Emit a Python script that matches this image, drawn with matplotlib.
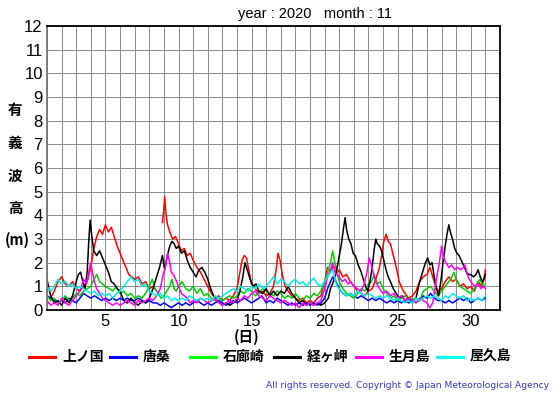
import numpy as np
import matplotlib
matplotlib.use("Agg")
import matplotlib.pyplot as plt
from matplotlib.lines import Line2D

nan = np.nan

# station names and colours
names = ["上ノ国", "唐桑", "石廊崎", "経ヶ岬", "生月島", "屋久島"]
colors = ["#ff0000", "#0000ff", "#00cc00", "#000000", "#ff00ff", "#00eeee"]
legend_colors = ["#ff0000", "#0000ff", "#00ff00", "#000000", "#ff00ff", "#00ffff"]

# (day, height m)
red_t = [1.0, 1.25, 1.5, 1.75, 2.0, 2.25, 2.5, 2.75, 3.0, 3.25, 3.5, 3.75, 4.0, 4.2, 4.4, 4.6, 4.8, 5.0, 5.2, 5.4,
         5.6, 5.8, 6.0, 6.2, 6.4, 6.6, 6.8, 7.0, 7.25, 7.5, 7.75, 8.0, 8.25, 8.5, 8.7, 8.9, 9.0, 9.05, 9.15, 9.25,
         9.4, 9.6, 9.8, 10.0, 10.2, 10.4, 10.6, 10.8, 11.0, 11.25, 11.5, 11.75, 12.0, 12.25, 12.5, 12.75, 13.0,
         13.25, 13.5, 13.75, 14.0, 14.2, 14.35, 14.5, 14.65, 14.8, 15.0, 15.25, 15.5, 15.75, 16.0, 16.25, 16.5,
         16.7, 16.8, 16.95, 17.1, 17.3, 17.5, 17.75, 18.0, 18.25, 18.5, 18.75, 19.0, 19.25, 19.5, 19.75, 20.0,
         20.2, 20.4, 20.6, 20.8, 21.0, 21.25, 21.5, 21.75, 22.0, 22.25, 22.5, 22.75, 23.0, 23.25, 23.5, 23.75,
         23.9, 24.05, 24.2, 24.35, 24.5, 24.7, 24.9, 25.1, 25.3, 25.5, 25.75, 26.0, 26.25, 26.5, 26.75, 27.0,
         27.2, 27.4, 27.6, 27.8, 28.0, 28.25, 28.5, 28.75, 29.0, 29.25, 29.5, 29.75, 30.0, 30.25, 30.5, 30.75,
         30.9, 31.0]
red_h = [0.6, 0.5, 0.8, 1.2, 1.4, 1.1, 1.0, 1.2, 0.9, 0.8, 1.0, 1.2, 1.8, 2.6, 3.1, 3.4, 3.2, 3.6, 3.3, 3.5,
         3.1, 2.7, 2.4, 2.1, 1.8, 1.5, 1.4, 1.3, 1.4, 1.1, 1.2, 0.9, 1.0, 0.8, nan, 3.7, 4.3, 4.8, 4.0, 3.6,
         3.3, 3.0, 3.1, 2.8, 2.5, 2.6, 2.3, 2.4, 2.1, 1.8, 1.6, 1.3, 1.0, 0.7, 0.5, 0.6, 0.4,
         0.5, 0.4, 0.6, 0.9, 1.6, 2.1, 2.3, 2.2, 1.7, 1.1, 0.9, 0.7, 0.8, 0.6, 0.7, 1.0,
         1.8, 2.4, 2.1, 1.5, 1.0, 0.8, 0.6, 0.5, 0.4, 0.5, 0.3, 0.4, 0.3, 0.5, 0.6, 1.2,
         1.8, 1.6, 1.9, 1.5, 1.7, 1.4, 1.5, 1.2, 1.0, 0.8, 0.7, 0.6, 0.8, 0.9, 1.3, 1.8,
         2.3, 2.9, 3.2, 2.9, 2.8, 2.3, 1.8, 1.2, 0.9, 0.7, 0.5, 0.6, 0.8, 1.2, 1.4, 1.5,
         1.8, 1.4, 1.0, 0.8, 0.9, 1.2, 1.4, 1.2, 1.3, 1.0, 1.1, 0.9, 1.0, 0.8, 1.2, 1.0,
         1.3, 1.7]

blue_t = [1.0, 1.25, 1.5, 1.75, 2.0, 2.25, 2.5, 2.75, 3.0, 3.25, 3.5, 3.75, 4.0, 4.25, 4.5, 4.75, 5.0, 5.25,
          5.5, 5.75, 6.0, 6.25, 6.5, 6.75, 7.0, 7.25, 7.5, 7.75, 8.0, 8.25, 8.5, 8.75, 9.0, 9.25, 9.5, 9.75,
          10.0, 10.25, 10.5, 10.75, 11.0, 11.25, 11.5, 11.75, 12.0, 12.25, 12.5, 12.75, 13.0, 13.25, 13.5,
          13.75, 14.0, 14.25, 14.5, 14.75, 15.0, 15.25, 15.5, 15.7, 15.9, 16.0, 16.25, 16.5, 16.75, 17.0,
          17.25, 17.5, 17.75, 18.0, 18.25, 18.5, 18.75, 19.0, 19.25, 19.5, 19.75, 20.0, 20.2, 20.4, 20.55,
          20.7, 20.85, 21.0, 21.25, 21.5, 21.75, 22.0, 22.25, 22.5, 22.75, 23.0, 23.25, 23.5, 23.75, 24.0,
          24.25, 24.5, 24.75, 25.0, 25.25, 25.5, 25.75, 26.0, 26.25, 26.5, 26.75, 27.0, 27.25, 27.5, 27.75,
          28.0, 28.25, 28.5, 28.75, 29.0, 29.25, 29.5, 29.75, 30.0, 30.25, 30.5, 30.75, 31.0]
blue_h = [0.6, 0.5, 0.4, 0.3, 0.4, 0.3, 0.5, 0.4, 0.3, 0.5, 0.7, 0.6, 0.5, 0.6, 0.5, 0.4, 0.5, 0.4,
          0.5, 0.4, 0.5, 0.4, 0.5, 0.4, 0.4, 0.5, 0.4, 0.3, 0.4, 0.3, 0.3, 0.2, 0.3, 0.2, 0.1, 0.2,
          0.3, 0.2, 0.3, 0.2, 0.3, 0.4, 0.3, 0.2, 0.3, 0.2, 0.3, 0.4, 0.3, 0.2, 0.3,
          0.4, 0.3, 0.4, 0.5, 0.4, 0.3, 0.4, 0.5, 0.6, 0.4, 0.3, 0.4, 0.3, 0.5, 0.4,
          0.3, 0.2, 0.3, 0.2, 0.3, 0.2, 0.3, 0.2, 0.3, 0.2, 0.3, 0.5, 0.9, 1.2, 1.4,
          1.3, 1.1, 0.9, 0.7, 0.6, 0.7, 0.6, 0.5, 0.6, 0.5, 0.4, 0.5, 0.4, 0.5, 0.4,
          0.3, 0.4, 0.3, 0.4, 0.3, 0.4, 0.3, 0.4, 0.5, 0.4, 0.6, 0.5, 0.7, 0.5, 0.4,
          0.4, 0.3, 0.4, 0.3, 0.4, 0.5, 0.4, 0.5, 0.3, 0.4, 0.5, 0.4, 0.5]

green_t = [1.0, 1.25, 1.5, 1.75, 2.0, 2.25, 2.5, 2.75, 3.0, 3.25, 3.5, 3.75, 4.0, 4.2, 4.4, 4.6, 4.8, 5.0,
           5.25, 5.5, 5.75, 6.0, 6.25, 6.5, 6.75, 7.0, 7.25, 7.5, 7.75, 8.0, 8.2, 8.4, 8.6, 8.8, 9.0, 9.2,
           9.4, 9.55, 9.7, 9.85, 10.0, 10.25, 10.5, 10.75, 11.0, 11.25, 11.5, 11.75, 12.0, 12.25, 12.5,
           12.75, 13.0, 13.25, 13.5, 13.75, 14.0, 14.25, 14.5, 14.75, 15.0, 15.25, 15.5, 15.75, 16.0, 16.25,
           16.5, 16.75, 17.0, 17.25, 17.5, 17.75, 18.0, 18.25, 18.5, 18.75, 19.0, 19.25, 19.5, 19.75, 20.0,
           20.2, 20.4, 20.55, 20.7, 20.85, 21.0, 21.25, 21.5, 21.75, 22.0, 22.25, 22.5, 22.75, 23.0, 23.2,
           23.4, 23.6, 23.8, 24.0, 24.25, 24.5, 24.75, 25.0, 25.25, 25.5, 25.75, 26.0, 26.25, 26.5, 26.75,
           27.0, 27.25, 27.5, 27.75, 28.0, 28.25, 28.5, 28.7, 28.85, 29.0, 29.25, 29.5, 29.75, 30.0, 30.25,
           30.5, 30.65, 30.8, 31.0]
green_h = [0.6, 0.4, 0.5, 0.3, 0.4, 0.6, 0.4, 0.5, 0.7, 0.6, 0.8, 0.9, 1.0, 1.3, 1.5, 1.2, 1.1, 1.0,
           0.9, 0.8, 1.0, 0.7, 0.8, 0.6, 0.7, 0.5, 0.6, 0.5, 0.7, 1.0, 1.3, 0.9, 0.7, 0.5, 0.6, 0.8,
           1.0, 1.3, 0.9, 0.8, 1.0, 1.2, 0.9, 0.8, 1.0, 0.7, 0.9, 0.6, 0.7, 0.5, 0.4,
           0.5, 0.4, 0.5, 0.6, 0.5, 0.6, 0.8, 0.7, 0.9, 0.8, 0.6, 0.7, 0.9, 0.8, 0.7,
           0.6, 0.8, 0.7, 0.5, 0.6, 0.5, 0.7, 0.5, 0.4, 0.6, 0.5, 0.7, 0.6, 0.8, 1.2,
           1.6, 2.0, 2.5, 2.0, 1.6, 1.2, 0.9, 0.7, 0.6, 0.5, 0.7, 0.9, 0.8, 1.1, 1.2,
           1.5, 1.1, 1.2, 0.9, 0.7, 0.5, 0.6, 0.4, 0.5, 0.6, 0.4, 0.5, 0.3, 0.4, 0.8,
           0.9, 1.0, 0.8, 0.6, 0.8, 1.0, 1.2, 1.4, 1.6, 1.3, 1.0, 0.9, 0.8, 0.7, 0.9,
           1.2, 1.3, 1.0, 1.1]

black_t = [1.0, 1.1, 1.25, 1.5, 1.75, 2.0, 2.25, 2.5, 2.75, 3.0, 3.15, 3.3, 3.45, 3.6, 3.75, 3.85, 3.95, 4.05,
           4.2, 4.4, 4.6, 4.8, 5.0, 5.2, 5.4, 5.6, 5.8, 6.0, 6.25, 6.5, 6.75, 7.0, 7.25, 7.5, 7.75, 8.0,
           8.25, 8.5, 8.7, 8.9, 9.05, 9.2, 9.4, 9.55, 9.7, 9.85, 10.0, 10.2, 10.4, 10.6, 10.8, 11.0, 11.2,
           11.4, 11.6, 11.8, 12.0, 12.2, 12.4, 12.6, 12.8, 13.0, 13.25, 13.5, 13.75, 14.0, 14.2, 14.4, 14.55,
           14.7, 14.9, 15.1, 15.3, 15.5, 15.75, 16.0, 16.25, 16.5, 16.75, 17.0, 17.25, 17.5, 17.75, 18.0,
           18.25, 18.5, 18.75, 19.0, 19.25, 19.5, 19.75, 20.0, 20.25, 20.4, 20.6, 20.8, 21.0, 21.15, 21.3,
           21.4, 21.5, 21.65, 21.8, 21.95, 22.1, 22.3, 22.5, 22.65, 22.8, 22.95, 23.1, 23.25, 23.4, 23.5,
           23.6, 23.75, 23.9, 24.05, 24.2, 24.35, 24.5, 24.7, 24.9, 25.1, 25.3, 25.5, 25.75, 26.0, 26.25,
           26.5, 26.7, 26.9, 27.05, 27.2, 27.35, 27.5, 27.65, 27.8, 27.95, 28.1, 28.25, 28.4, 28.5, 28.6,
           28.75, 28.9, 29.05, 29.2, 29.35, 29.5, 29.7, 29.85, 30.0, 30.2, 30.35, 30.5, 30.65, 30.8, 30.9,
           31.0]
black_h = [1.3, 1.0, 0.6, 0.3, 0.4, 0.2, 0.5, 0.3, 0.6, 1.2, 1.5, 1.6, 1.2, 0.9, 1.6, 2.8, 3.8, 3.2,
           2.5, 2.3, 2.5, 2.2, 1.9, 1.6, 1.2, 1.1, 0.9, 0.8, 0.4, 0.3, 0.5, 0.3, 0.2, 0.4, 0.3, 0.5,
           0.9, 1.4, 1.8, 2.3, 1.7, 2.2, 2.7, 2.9, 2.8, 2.6, 2.7, 2.4, 2.5, 2.1, 1.8, 1.6, 1.4,
           1.7, 1.8, 1.6, 1.3, 0.9, 0.6, 0.4, 0.3, 0.2, 0.3, 0.2, 0.3, 0.4, 0.8, 1.4, 2.0,
           1.7, 1.3, 1.0, 1.1, 0.8, 0.7, 0.9, 0.6, 0.8, 0.6, 0.8, 0.7, 1.0, 0.7, 0.5,
           0.3, 0.4, 0.2, 0.3, 0.2, 0.3, 0.2, 0.3, 0.5, 0.9, 1.2, 1.6, 2.3, 2.8, 3.5,
           3.9, 3.4, 3.0, 2.8, 2.4, 2.3, 1.9, 1.6, 1.3, 1.0, 0.8, 1.2, 1.8, 2.6, 3.0,
           2.8, 2.7, 2.5, 2.1, 1.7, 1.4, 1.2, 0.9, 0.7, 0.5, 0.6, 0.4, 0.5, 0.3, 0.5,
           1.2, 1.6, 2.0, 2.2, 1.9, 2.0, 1.4, 0.9, 0.6, 1.2, 2.0, 2.7, 3.3, 3.6, 3.3,
           3.0, 2.6, 2.4, 2.3, 2.1, 1.9, 1.6, 1.5, 1.5, 1.4, 1.5, 1.7, 1.4, 1.2, 1.3,
           1.5]

mag_t = [1.0, 1.25, 1.5, 1.75, 2.0, 2.25, 2.5, 2.75, 3.0, 3.25, 3.5, 3.7, 3.85, 4.0, 4.1, 4.25, 4.4, 4.6,
         4.8, 5.0, 5.25, 5.5, 5.75, 6.0, 6.25, 6.5, 6.75, 7.0, 7.25, 7.5, 7.75, 8.0, 8.25, 8.5, 8.75, 8.95,
         9.1, 9.25, 9.4, 9.5, 9.65, 9.8, 10.0, 10.2, 10.4, 10.6, 10.8, 11.0, 11.25, 11.5, 11.75, 12.0, 12.25,
         12.5, 12.75, 13.0, 13.25, 13.5, 13.75, 14.0, 14.25, 14.5, 14.75, 15.0, 15.25, 15.5, 15.75, 16.0,
         16.25, 16.5, 16.75, 17.0, 17.25, 17.5, 17.75, 18.0, 18.25, 18.5, 18.75, 19.0, 19.25, 19.5, 19.75,
         20.0, 20.2, 20.4, 20.55, 20.7, 20.85, 21.0, 21.2, 21.4, 21.6, 21.8, 22.0, 22.25, 22.5, 22.7, 22.9,
         23.05, 23.2, 23.35, 23.5, 23.75, 24.0, 24.25, 24.5, 24.75, 25.0, 25.25, 25.5, 25.75, 26.0, 26.25,
         26.5, 26.75, 27.0, 27.2, 27.4, 27.55, 27.7, 27.85, 28.0, 28.15, 28.3, 28.5, 28.7, 28.9, 29.1, 29.3,
         29.5, 29.6, 29.75, 29.9, 30.1, 30.3, 30.5, 30.7, 30.85, 31.0]
mag_h = [0.4, 0.2, 0.3, 0.2, 0.5, 0.3, 0.2, 0.4, 0.6, 0.8, 1.3, 1.1, 1.6, 2.0, 1.6, 1.2, 0.9, 0.7,
         0.5, 0.4, 0.3, 0.2, 0.3, 0.2, 0.3, 0.4, 0.3, 0.2, 0.4, 0.3, 0.4, 0.5, 0.4, 0.6, 0.9, 1.5,
         1.8, 2.4, 2.0, 1.6, 1.5, 1.3, 1.0, 0.7, 0.6, 0.5, 0.3, 0.4, 0.3, 0.5, 0.4, 0.3, 0.4,
         0.5, 0.3, 0.2, 0.3, 0.4, 0.3, 0.5, 0.4, 0.6, 0.5, 0.7, 0.8, 0.6, 0.5, 0.4,
         0.6, 0.5, 0.4, 0.3, 0.4, 0.3, 0.2, 0.3, 0.1, 0.3, 0.2, 0.3, 0.2, 0.3, 0.4,
         0.9, 1.4, 1.7, 2.0, 1.6, 1.5, 1.4, 1.2, 1.3, 1.1, 1.2, 1.0, 0.9, 0.8, 1.1, 1.6,
         2.2, 1.9, 1.5, 1.2, 0.9, 0.7, 0.8, 0.6, 0.7, 0.5, 0.6, 0.4, 0.5, 0.4, 0.3,
         0.5, 0.4, 0.3, 0.1, 0.3, 0.9, 1.5, 2.0, 2.7, 2.2, 2.0, 1.8, 1.9, 1.7, 1.8, 1.7,
         1.8, 1.9, 1.5, 1.3, 1.1, 1.0, 1.1, 0.9, 1.0, 0.9]

cyan_t = [1.0, 1.25, 1.5, 1.75, 2.0, 2.25, 2.5, 2.75, 3.0, 3.25, 3.5, 3.75, 4.0, 4.25, 4.5, 4.75, 5.0, 5.25,
          5.5, 5.75, 6.0, 6.25, 6.5, 6.75, 7.0, 7.25, 7.5, 7.75, 8.0, 8.25, 8.5, 8.75, 9.0, 9.25, 9.5, 9.75,
          10.0, 10.25, 10.5, 10.75, 11.0, 11.25, 11.5, 11.75, 12.0, 12.25, 12.5, 12.75, 13.0, 13.25, 13.5,
          13.75, 14.0, 14.25, 14.5, 14.75, 15.0, 15.25, 15.5, 15.75, 16.0, 16.25, 16.5, 16.75, 17.0, 17.25,
          17.5, 17.75, 18.0, 18.25, 18.5, 18.75, 19.0, 19.25, 19.5, 19.75, 20.0, 20.2, 20.4, 20.55, 20.7,
          20.85, 21.0, 21.25, 21.5, 21.75, 22.0, 22.25, 22.5, 22.75, 23.0, 23.25, 23.5, 23.75, 24.0, 24.25,
          24.5, 24.75, 25.0, 25.25, 25.5, 25.75, 26.0, 26.25, 26.5, 26.75, 27.0, 27.25, 27.5, 27.75, 28.0,
          28.25, 28.5, 28.75, 29.0, 29.25, 29.5, 29.75, 30.0, 30.25, 30.5, 30.75, 31.0]
cyan_h = [1.0, 0.8, 1.0, 1.3, 1.1, 1.2, 1.0, 1.1, 0.9, 1.0, 0.9, 0.8, 0.7, 0.8, 0.6, 0.7, 0.6, 0.7,
          0.5, 0.7, 0.8, 1.0, 1.2, 1.4, 1.2, 1.3, 1.0, 1.1, 0.8, 0.7, 0.6, 0.7, 0.5, 0.6, 0.4, 0.5,
          0.4, 0.5, 0.4, 0.6, 0.5, 0.4, 0.5, 0.4, 0.5, 0.4, 0.6, 0.5, 0.6, 0.7, 0.8,
          0.9, 0.8, 1.0, 0.9, 0.8, 1.0, 0.9, 1.1, 0.9, 1.0, 1.2, 1.4, 1.1, 1.3, 1.2,
          1.0, 1.2, 1.3, 1.1, 1.2, 1.0, 1.2, 1.35, 1.1, 1.0, 1.2, 1.4, 1.6, 1.7, 1.3,
          1.0, 0.9, 0.7, 0.6, 0.7, 0.6, 0.8, 0.7, 0.6, 0.7, 0.6, 0.5, 0.6, 0.5, 0.6,
          0.5, 0.4, 0.5, 0.4, 0.3, 0.4, 0.3, 0.5, 0.4, 0.5, 0.6, 0.5, 0.6, 0.5, 0.4,
          0.6, 0.5, 0.7, 0.6, 0.5, 0.6, 0.4, 0.5, 0.4, 0.5, 0.4, 0.6]

series = [(red_t, red_h), (blue_t, blue_h), (green_t, green_h),
          (black_t, black_h), (mag_t, mag_h), (cyan_t, cyan_h)]

yticks = list(range(0, 13))
xticks = [5, 10, 15, 20, 25, 30]

jp = ["Noto Sans CJK JP", "DejaVu Sans"]
plt.rcParams["font.family"] = ["Liberation Sans", "DejaVu Sans"]

fig = plt.figure(figsize=(5.55, 3.95), dpi=100)
ax = fig.add_axes([47/555, 1-310/395, 453/555, 284/395])

# draw order: cyan at back like the original seems to mix; keep legend order
for (t, h), c in zip(series, colors):
    ax.plot(t, h, color=c, lw=1.1)

ax.set_xlim(1, 32)
ax.set_ylim(0, 12)
ax.set_yticks(yticks)
ax.set_xticks(xticks)
ax.set_xticks(range(1, 33), minor=True)
ax.grid(True, which="both", color="#888888", lw=0.7)
ax.set_axisbelow(True)
ax.tick_params(axis="both", which="both", length=0, labelsize=12, pad=3)
for s in ax.spines.values():
    s.set_linewidth(1.3)
    s.set_color("black")
ax.spines["left"].set_color("#777777")

fig.text(315/555, 1-14/395, "year : 2020   month : 11", ha="center", va="center", fontsize=10.5)

# vertical y label
for ch, yy in zip(["有", "義", "波", "高"], [110, 143, 176, 208]):
    fig.text(15/555, 1-yy/395, ch, ha="center", va="center", fontsize=10.5,
             family=jp, weight="bold")
fig.text(17/555, 1-240/395, "(m)", ha="center", va="center", fontsize=10.5, family=jp, weight="bold")

fig.text(247/555, 1-337/395, "(日)", ha="center", va="center", fontsize=10.5, family=jp, weight="bold")

# legend row
line_x = [29, 110, 190, 274, 356, 437]
for x0, c, n in zip(line_x, legend_colors, names):
    fig.add_artist(Line2D([x0/555, (x0+26)/555], [1-357/395, 1-357/395], color=c, lw=2.2,
                          transform=fig.transFigure))
    fig.text((x0+33)/555, 1-357/395, n, ha="left", va="center", fontsize=10,
             family=jp, weight="bold")

fig.text(549/555, 1-385/395, "All rights reserved. Copyright \u00a9 Japan Meteorological Agency",
         ha="right", va="center", fontsize=6.6, color="#3838c8", family=["DejaVu Sans"])

fig.savefig("out.png", dpi=100)
